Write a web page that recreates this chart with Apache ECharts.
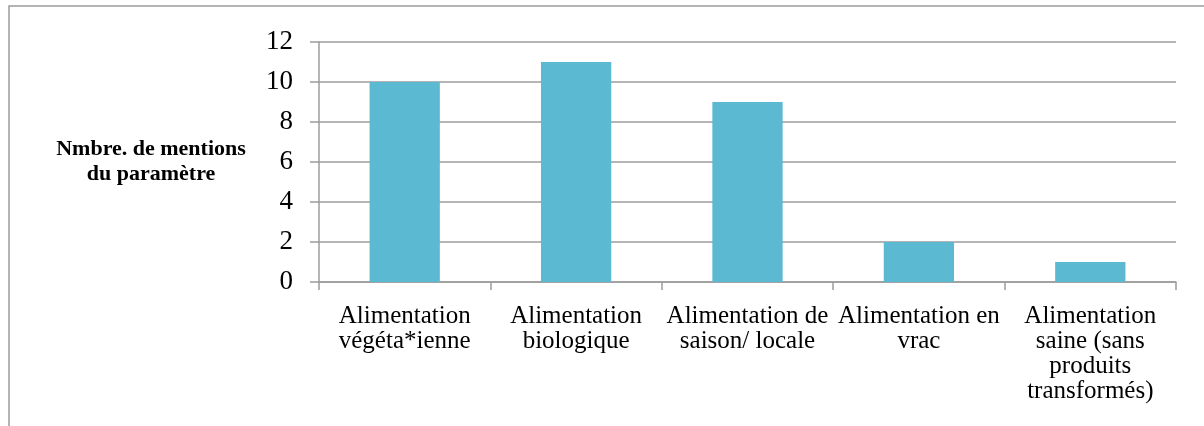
<!DOCTYPE html>
<html>
<head>
<meta charset="utf-8">
<script src="https://cdn.jsdelivr.net/npm/echarts@6/dist/echarts.min.js"></script>
<style>
html, body {
  margin: 0;
  padding: 0;
  background: #fff;
}
#chart {
  width: 1204px;
  height: 426px;
}
</style>
</head>
<body>
<div id="chart"></div>
<script>
// catégories (axe x) et nombre de mentions
var categories = [
  'Alimentation\nvégéta*ienne',
  'Alimentation\nbiologique',
  'Alimentation de\nsaison/ locale',
  'Alimentation en\nvrac',
  'Alimentation\nsaine (sans\nproduits\ntransformés)'
]
var mentions = [10, 11, 9, 2, 1]
var yTicks = { min: 0, max: 12, interval: 2 }
var yName = 'Nmbre. de mentions\ndu paramètre'

var gris = '#9c9c9c'
var police = '"Liberation Serif", "DejaVu Serif", serif'

var chart = echarts.init(document.getElementById('chart'))
var option = {
  animation: false,
  backgroundColor: '#fff',
  grid: {
    left: 319,
    right: 28,
    top: 42,
    bottom: 144
  },
  graphic: [{
    type: 'rect', // cadre extérieur
    shape: { x: 9, y: 6, width: 1400, height: 600 },
    style: { fill: 'none', stroke: gris, lineWidth: 1.5 }
  }],
  xAxis: {
    type: 'category',
    data: categories,
    axisLine: { lineStyle: { color: gris, width: 1.5 } },
    axisTick: { show: true, length: 8, lineStyle: { color: gris, width: 1.5 } },
    axisLabel: {
      interval: 0,
      margin: 22,
      color: '#000',
      fontFamily: police,
      fontSize: 25,
      lineHeight: 25,
      align: 'center'
    }
  },
  yAxis: {
    type: 'value',
    min: yTicks.min,
    max: yTicks.max,
    interval: yTicks.interval,
    name: yName,
    nameLocation: 'middle',
    nameRotate: 0,
    nameGap: 168,
    nameTextStyle: {
      align: 'center',
      verticalAlign: 'middle',
      color: '#000',
      fontFamily: police,
      fontWeight: 'bold',
      fontSize: 22,
      lineHeight: 25
    },
    axisLine: { show: true, lineStyle: { color: gris, width: 1.5 } },
    axisTick: { show: true, length: 9, lineStyle: { color: gris, width: 1.5 } },
    splitLine: { show: true, lineStyle: { color: gris, width: 1.5 } },
    axisLabel: {
      margin: 26,
      color: '#000',
      fontFamily: police,
      fontSize: 27
    }
  },
  series: [{
    type: 'bar',
    data: mentions,
    barWidth: '41%',
    itemStyle: { color: '#5bb9d2' }
  }]
}
chart.setOption(option)
</script>
</body>
</html>
